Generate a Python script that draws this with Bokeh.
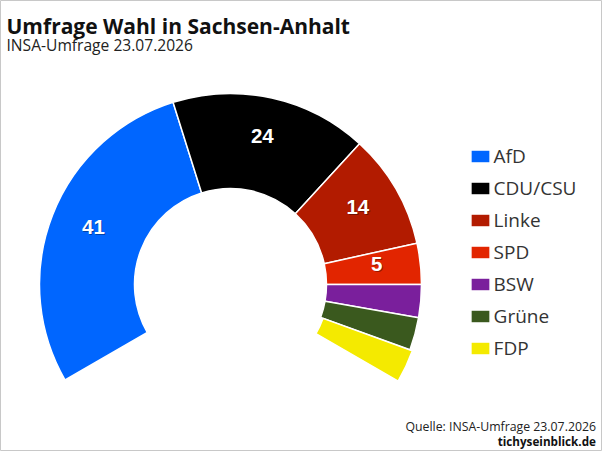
import math
from bokeh.plotting import figure
from bokeh.models import ColumnDataSource, Range1d, Label, Legend, LegendItem
from bokeh.core.properties import value
from bokeh.embed import file_html
from bokeh.resources import INLINE

# ---- data ----
title_text = "Umfrage Wahl in Sachsen-Anhalt"
subtitle_text = "INSA-Umfrage 23.07.2026"
source_text = "Quelle: INSA-Umfrage 23.07.2026"
site_text = "tichyseinblick.de"

parties = ["AfD", "CDU/CSU", "Linke", "SPD", "BSW", "Grüne", "FDP"]
values = [41, 24, 14, 5, 4, 4, 4]
colors = ["#0066ff", "#000000", "#b21b00", "#e22500", "#7a1f9c", "#3a591e", "#f4ea00"]

# ---- layout (pixel-like design space, y up) ----
W, H = 602, 451
p = figure(width=W, height=H, x_range=Range1d(0, W), y_range=Range1d(0, H),
           output_backend="svg", toolbar_location=None, min_border=0)
p.axis.visible = False
p.grid.visible = False
p.outline_line_color = "#c8c8c8"
p.outline_line_width = 1
p.background_fill_color = "white"
p.border_fill_color = "white"

cx, cy = 230, H - 284
r_in, r_out = 96, 191
label_r = 147
label_lift = 4.5
start_deg, sweep_deg = 210, 240
total = sum(values)
explode = {"FDP": 2.5}

xs, ys, starts, ends = [], [], [], []
lx, ly, ltxt = [], [], []
cum = 0
for party, v in zip(parties, values):
    a0 = start_deg - sweep_deg * cum / total
    a1 = start_deg - sweep_deg * (cum + v) / total
    mid = math.radians((a0 + a1) / 2)
    off = explode.get(party, 0)
    xs.append(cx + off * math.cos(mid))
    ys.append(cy + off * math.sin(mid))
    starts.append(math.radians(a1))
    ends.append(math.radians(a0))
    if v >= 5:
        lx.append(cx + label_r * math.cos(mid))
        ly.append(cy + label_r * math.sin(mid) + label_lift)
        ltxt.append(str(v))
    cum += v

src = ColumnDataSource(dict(x=xs, y=ys, start=starts, end=ends, color=colors, party=parties, val=values))
wedges = p.annular_wedge(x="x", y="y", inner_radius=r_in, outer_radius=r_out,
                         start_angle="start", end_angle="end", direction="anticlock",
                         fill_color="color", line_color="white", line_width=1.5, source=src)

lsrc = ColumnDataSource(dict(x=lx, y=ly, t=ltxt))
p.text(x="x", y="y", text="t", source=lsrc, x_offset=1, y_offset=1.5,
       text_align="center", text_baseline="middle", text_color="black", text_alpha=0.35,
       text_font=value("Liberation Sans"), text_font_style="bold", text_font_size="20.5px")
p.text(x="x", y="y", text="t", source=lsrc,
       text_align="center", text_baseline="middle", text_color="white",
       text_font=value("Liberation Sans"), text_font_style="bold", text_font_size="20.5px")

items = [LegendItem(label=party, renderers=[wedges], index=i) for i, party in enumerate(parties)]
legend = Legend(items=items, location=(467.6, 90), orientation="vertical",
                glyph_width=24, glyph_height=16, label_standoff=2, label_height=26,
                spacing=6, padding=0, margin=0, border_line_alpha=0, background_fill_alpha=0,
                label_text_font="Open Sans", label_text_font_size="19px",
                label_text_color="#333333", label_text_baseline="middle")
p.add_layout(legend)

p.add_layout(Label(x=6, y=H - 25, text=title_text, text_font="Open Sans",
                   text_font_style="bold", text_font_size="21px", text_color="#111111",
                   text_baseline="alphabetic"))
p.add_layout(Label(x=6, y=H - 44.3, text=subtitle_text, text_font="Open Sans",
                   text_font_size="15.6px", text_color="#222222", text_baseline="alphabetic"))
p.add_layout(Label(x=595.5, y=H - 425.7, text=source_text, text_font="Open Sans",
                   text_font_size="12.3px", text_color="#222222", text_align="right",
                   text_baseline="alphabetic"))
p.add_layout(Label(x=595.5, y=H - 440.7, text=site_text, text_font="Open Sans",
                   text_font_style="bold", text_font_size="11.7px", text_color="#111111",
                   text_align="right", text_baseline="alphabetic"))

open("out.html", "w").write(file_html(p, INLINE))
